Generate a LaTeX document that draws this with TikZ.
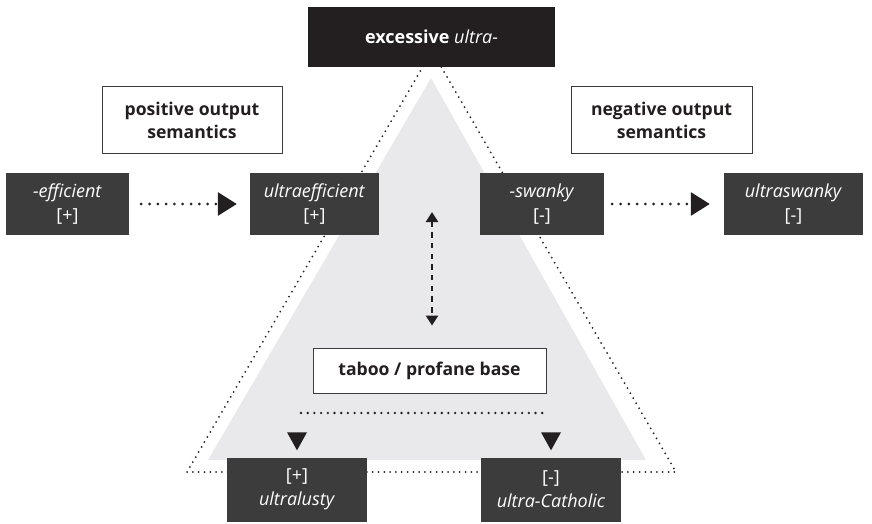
\documentclass[tikz,border=0pt]{standalone}
\usepackage{fontspec}
\setmainfont{Open Sans}
\usetikzlibrary{arrows.meta}
\definecolor{boxdark}{HTML}{3C3C3C}
\definecolor{boxblack}{HTML}{231F20}
\definecolor{trigray}{HTML}{E9E9EB}
\definecolor{ink}{HTML}{231F20}
\begin{document}
\begin{tikzpicture}[x=1pt,y=-1pt,
  font=\fontsize{18}{24}\selectfont,
  darkbox/.style={fill=boxdark, text=white, minimum width=#1, minimum height=62pt, inner sep=0pt, align=center},
  whitebox/.style={fill=white, draw=boxdark, line width=0.9pt, text=ink, font=\fontsize{17.6}{23}\selectfont\bfseries, inner sep=0pt, align=center},
  dotarrow/.style={draw=ink, line width=3pt, line cap=round, dash pattern=on 0pt off 8.3pt,
     -{Triangle[length=19pt,width=23pt]}},
  thindots/.style={draw=ink, line width=2pt, line cap=round, dash pattern=on 0pt off 5.8pt},
  basedots/.style={draw=ink, line width=2.6pt, line cap=round, dash pattern=on 0pt off 6.7pt},
  dasharrow/.style={draw=ink, line width=2.4pt, dash pattern=on 5.5pt off 5.2pt,
     {Triangle[length=10pt,width=12pt]}-{Triangle[length=10pt,width=12pt]}},
  downtip/.style={fill=ink}
]
\useasboundingbox (0,0) rectangle (872,524);

% background triangle and dotted outline
\fill[trigray] (431,78) -- (208,460) -- (646,460) -- cycle;
\draw[thindots] (432,51) -- (187,472) -- (676,472) -- cycle;

% top box
\node[fill=boxblack, text=white, minimum width=247pt, minimum height=60pt, inner sep=0pt] (ultra) at (431.5,37) {\textbf{excessive} \textit{ultra-}};

% semantics labels
\node[whitebox, minimum width=180pt, minimum height=67pt] (pos) at (192,120) {positive output\\semantics};
\node[whitebox, minimum width=181pt, minimum height=67pt] (neg) at (661.5,120) {negative output\\semantics};

% middle dark boxes
\node[darkbox=123pt] (eff) at (67.5,204) {\textit{-efficient}\\{[+]}};
\node[darkbox=129pt] (ueff) at (314.5,204) {\textit{ultraefficient}\\{[+]}};
\node[darkbox=124pt] (swa) at (542,204) {\textit{-swanky}\\{[-]}};
\node[darkbox=139pt] (uswa) at (793.5,204) {\textit{ultraswanky}\\{[-]}};

\draw[dotarrow, shorten <=12pt, shorten >=13pt] (eff) -- (ueff);
\draw[dotarrow, shorten <=8pt, shorten >=14pt] (swa) -- (uswa);

% taboo base
\node[whitebox, minimum width=233pt, minimum height=45pt] (base) at (429.5,370.5) {taboo / profane base};

\coordinate (top) at (432,212);
\draw[dasharrow, shorten >=22pt] (top) -- (base.north -| top);

% bottom boxes
\node[darkbox=140pt, minimum height=64pt] (lusty) at (297,489.5) {{[+]}\\\textit{ultralusty}};
\node[darkbox=140pt, minimum height=64pt] (cath) at (551,489.5) {{[-]}\\\textit{ultra-Catholic}};

\coordinate (bl) at (301,413);
\coordinate (br) at (547,413);
\draw[basedots] (bl) -- (br);
\fill[downtip] ([xshift=-10pt,yshift=25pt]lusty.north) -- ([xshift=10pt,yshift=25pt]lusty.north) -- ([yshift=7pt]lusty.north) -- cycle;
\fill[downtip] ([xshift=-10pt,yshift=25pt]cath.north) -- ([xshift=10pt,yshift=25pt]cath.north) -- ([yshift=7pt]cath.north) -- cycle;
\end{tikzpicture}
\end{document}
